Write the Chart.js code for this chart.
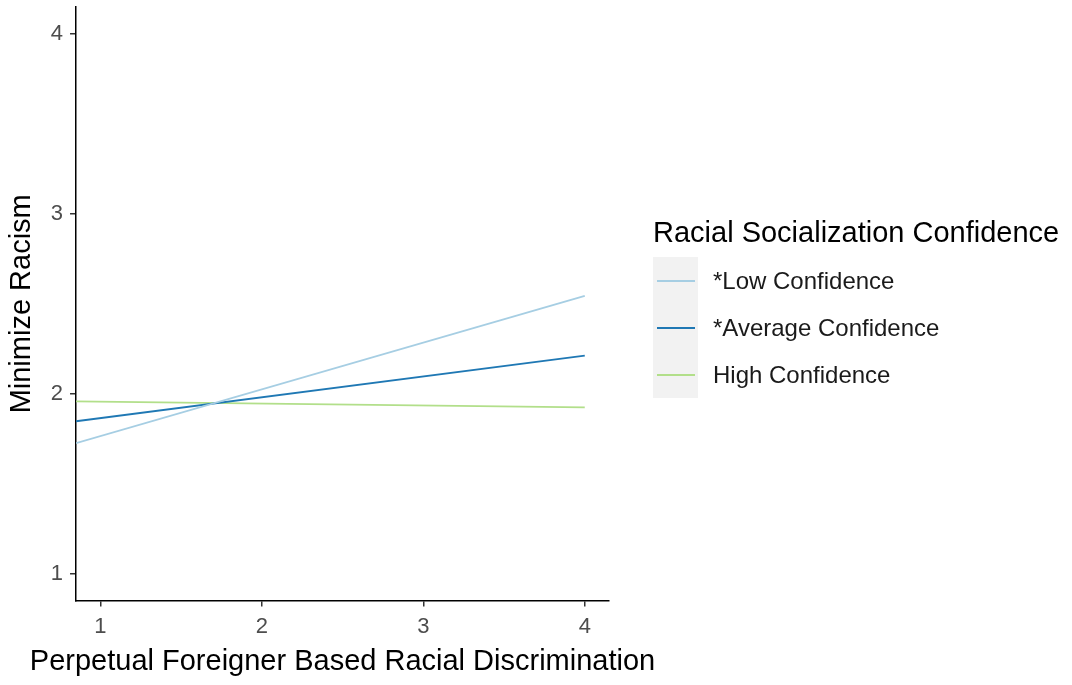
<!DOCTYPE html>
<html>
<head>
<meta charset="utf-8">
<script src="https://cdn.jsdelivr.net/npm/chart.js@4"></script>
<style>
  body { margin: 0; background: #fff; font-family: "Liberation Sans", Arial, sans-serif; }
  #wrap { position: relative; width: 1072px; height: 685px; }
  #legend { position: absolute; left: 653px; top: 214px; color: #000; }
  #legend .title { font-size: 29px; white-space: nowrap; height: 43px; line-height: 36px; }
  #legend .row { display: flex; align-items: center; height: 47px; }
  #legend .key { width: 45px; height: 47px; background: #f2f2f2; display: flex; align-items: center; justify-content: center; }
  #legend .key span { display: block; width: 38px; height: 2px; }
  #legend .lab { font-size: 24px; margin-left: 15px; color: #1a1a1a; white-space: nowrap; }
</style>
</head>
<body>
<div id="wrap">
  <canvas id="chart" width="1072" height="685"></canvas>
  <div id="legend"></div>
</div>
<script>
const xVals = [0.85, 4];
const lowConf = [1.725, 2.544];
const avgConf = [1.847, 2.212];
const highConf = [1.958, 1.924];
const seriesNames = ['*Low Confidence', '*Average Confidence', 'High Confidence'];
const seriesColors = ['#a6cee3', '#1f78b4', '#b2df8a'];
const tickVals = [1, 2, 3, 4];
const xTitle = 'Perpetual Foreigner Based Racial Discrimination';
const FONT = 'Liberation Sans';

function pts(ys) {
  return xVals.map((x, i) => ({ x: x, y: ys[i] }));
}

// keep ggplot-like edges: no extra room reserved for the end tick labels
function noEdgePad(axis) {
  axis.paddingTop = 0;
  axis.paddingBottom = 0;
  axis.paddingLeft = 0;
  axis.paddingRight = 0;
}

// x title is wider than the plot, chart.js would squeeze it, so draw it here
const xTitlePlugin = {
  id: 'xTitle',
  afterDraw(chart) {
    const c = chart.ctx;
    const a = chart.chartArea;
    c.save();
    c.font = '29px "' + FONT + '"';
    c.fillStyle = '#000';
    c.textAlign = 'center';
    c.textBaseline = 'middle';
    c.fillText(xTitle, (a.left + a.right) / 2, 662);
    c.restore();
  }
};

const ctx = document.getElementById('chart').getContext('2d');
const chart = new Chart(ctx, {
  type: 'line',
  data: {
    datasets: [lowConf, avgConf, highConf].map((d, i) => ({
      label: seriesNames[i],
      data: pts(d),
      borderColor: seriesColors[i],
      borderWidth: 1.8,
      pointRadius: 0,
      fill: false,
      tension: 0
    }))
  },
  options: {
    responsive: false,
    animation: false,
    layout: { padding: { left: 5, right: 463, top: 7, bottom: 38 } },
    plugins: { legend: { display: false }, tooltip: { enabled: false } },
    scales: {
      x: {
        type: 'linear',
        min: 0.85,
        max: 4.15,
        afterBuildTicks: axis => { axis.ticks = tickVals.map(v => ({ value: v })); },
        afterFit: noEdgePad,
        grid: { drawOnChartArea: false, drawTicks: true, tickLength: 6, color: '#333', lineWidth: 1.5 },
        border: { color: '#000', width: 1.5 },
        ticks: { color: '#4d4d4d', font: { size: 22, family: FONT }, padding: 7 }
      },
      y: {
        min: 0.85,
        max: 4.15,
        afterBuildTicks: axis => { axis.ticks = tickVals.map(v => ({ value: v })); },
        afterFit: noEdgePad,
        grid: { drawOnChartArea: false, drawTicks: true, tickLength: 6, color: '#333', lineWidth: 1.5 },
        border: { color: '#000', width: 1.5 },
        ticks: { color: '#4d4d4d', font: { size: 22, family: FONT }, padding: 7 },
        title: { display: true, text: 'Minimize Racism', color: '#000', font: { size: 29, family: FONT }, padding: { top: 0, bottom: 4 } }
      }
    }
  },
  plugins: [xTitlePlugin]
});

const legend = document.getElementById('legend');
let html = '<div class="title">Racial Socialization Confidence</div>';
seriesNames.forEach((n, i) => {
  html += '<div class="row"><div class="key"><span style="background:' + seriesColors[i] + '"></span></div><div class="lab">' + n + '</div></div>';
});
legend.innerHTML = html;
</script>
</body>
</html>
